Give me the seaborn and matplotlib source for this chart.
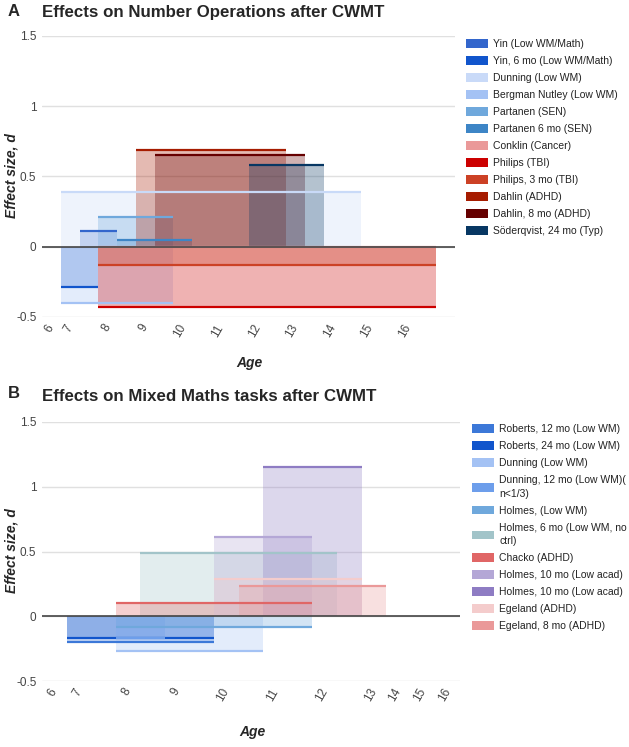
import numpy as np
import pandas as pd
import matplotlib
matplotlib.use("Agg")
import matplotlib.pyplot as plt
import seaborn as sns
from matplotlib.patches import Patch

# ---- data -------------------------------------------------------------
# age steps on the x axis (one step = one slot of the stepped chart)
rows_a = [6, 7, 7.5, 8, 8.5, 9, 9.5, 10, 10.5, 11, 11.5, 12, 12.5, 13,
          13.5, 14, 14.5, 15, 15.5, 16, 16.5, 17]
rows_b = [6, 7, 7.5, 8, 8.5, 9, 9.5, 10, 10.5, 11, 11.5, 12, 12.5, 13,
          14, 15, 16]
age_ticks = [6, 7, 8, 9, 10, 11, 12, 13, 14, 15, 16]

# panel A: number operations
names_a = ["Yin (Low WM/Math)", "Yin, 6 mo (Low WM/Math)", "Dunning (Low WM)",
           "Bergman Nutley (Low WM)", "Partanen (SEN)", "Partanen 6 mo (SEN)",
           "Conklin (Cancer)", "Philips (TBI)", "Philips, 3 mo (TBI)",
           "Dahlin (ADHD)", "Dahlin, 8 mo (ADHD)", "Söderqvist, 24 mo (Typ)"]
start_a = [7.5, 7, 7, 7, 8, 8.5, 8, 8, 8, 9, 9.5, 12]
end_a = [8, 7.5, 14.5, 9.5, 9.5, 10, 16.5, 16.5, 16.5, 12.5, 13, 13.5]
d_a = [0.11, -0.29, 0.39, -0.40, 0.21, 0.05, 0.0, -0.43, -0.13, 0.69, 0.65, 0.58]
colors_a = ["#3366cc", "#1155cc", "#c9daf8", "#a4c2f4", "#6fa8dc", "#3d85c6",
            "#ea9999", "#cc0000", "#cc4125", "#a61c00", "#660000", "#073763"]

# panel B: mixed maths tasks
names_b = ["Roberts, 12 mo (Low WM)", "Roberts, 24 mo (Low WM)", "Dunning (Low WM)",
           "Dunning, 12 mo (Low WM)(\nn<1/3)", "Holmes, (Low WM)",
           "Holmes, 6 mo (Low WM, no\nctrl)", "Chacko (ADHD)",
           "Holmes, 10 mo (Low acad)", "Holmes, 10 mo (Low acad)",
           "Egeland (ADHD)", "Egeland, 8 mo (ADHD)"]
start_b = [7, 7, 8, 8, 8, 8.5, 8, 10, 11, 10, 10.5]
end_b = [9.5, 9.5, 10.5, 8.5, 11.5, 12, 11.5, 11.5, 12.5, 12.5, 13]
d_b = [-0.20, -0.17, -0.27, -0.17, -0.08, 0.49, 0.10, 0.61, 1.15, 0.29, 0.23]
colors_b = ["#3c78d8", "#1155cc", "#a4c2f4", "#6d9eeb", "#6fa8dc", "#a2c4c9",
            "#e06666", "#b4a7d6", "#8e7cc3", "#f4cccc", "#ea9999"]

sns.set_theme(style="white")
plt.rcParams["font.family"] = ["Liberation Sans", "DejaVu Sans"]

W, H = 629, 747
fig = plt.figure(figsize=(W / 100, H / 100), dpi=100)


def px(l, t, r, b):
    return [l / W, 1 - b / H, (r - l) / W, (b - t) / H]


def panel(ax, rows, names, start, end, d, colors):
    order = [f"{r:g}" for r in rows]
    recs = []
    for i in range(len(names)):
        for r in rows:
            if start[i] <= r <= end[i]:
                recs.append({"row": f"{r:g}", "d": d[i], "key": str(i)})
    df = pd.DataFrame(recs)
    keys = [str(i) for i in range(len(names))]

    ax.set_ylim(-0.5, 1.5)
    ax.set_yticks([-0.5, 0, 0.5, 1, 1.5])
    ax.yaxis.grid(True, color="#e0e0e0", lw=1)
    ax.set_axisbelow(True)

    sns.barplot(data=df, x="row", y="d", hue="key", order=order, hue_order=keys,
                palette=colors, dodge=False, width=1, alpha=0.3, saturation=1,
                linewidth=0, errorbar=None, legend=False, ax=ax)

    # top edge line of each step area, taken from the bars seaborn drew
    for cont, col in zip(ax.containers, colors):
        xs0, xs1, ys = [], [], []
        for p in cont:
            p.set_antialiased(False)
            if np.isnan(p.get_height()):
                continue
            xs0.append(p.get_x())
            xs1.append(p.get_x() + p.get_width())
            ys.append(p.get_height())
        if ys:
            ax.hlines(ys[0], min(xs0), max(xs1), color=col, lw=1.6, zorder=3)

    ax.axhline(0, color="#444444", lw=1.2, zorder=4)
    ax.set_xlim(-0.5, len(rows) - 0.5)
    ax.set_xticks(range(len(rows)))
    ax.set_xticklabels([f"{r:g}" if r in age_ticks else "" for r in rows],
                       rotation=60, ha="right", va="center",
                       rotation_mode="anchor", fontsize=8.5, color="#444444")
    ax.tick_params(axis="x", length=0, pad=6)
    ax.tick_params(axis="y", length=0, pad=4, labelsize=8.5, labelcolor="#444444")
    ax.set_yticklabels(["-0.5", "0", "0.5", "1", "1.5"])
    ax.set_xlabel("")
    ax.set_ylabel("")
    sns.despine(ax=ax, left=True, bottom=True)

    handles = [Patch(facecolor=c, edgecolor="none", label=n)
               for n, c in zip(names, colors)]
    return handles


leg_kw = dict(loc="upper left", bbox_transform=fig.transFigure, frameon=False,
              fontsize=7.5, handlelength=2.1, handleheight=0.9,
              handletextpad=0.5, labelspacing=0.67, borderaxespad=0,
              labelcolor="#222222")

ax_a = fig.add_axes(px(42, 36, 455, 317))
h_a = panel(ax_a, rows_a, names_a, start_a, end_a, d_a, colors_a)
ax_a.legend(handles=h_a, bbox_to_anchor=(462 / W, 1 - 35 / H), **leg_kw)

ax_b = fig.add_axes(px(42, 422, 460, 681))
h_b = panel(ax_b, rows_b, names_b, start_b, end_b, d_b, colors_b)
leg_b = ax_b.legend(handles=h_b, bbox_to_anchor=(468 / W, 1 - 420 / H), **leg_kw)
for t in leg_b.get_texts():
    t.set_linespacing(1.45)

# titles and axis labels
fig.text(8 / W, 1 - 12 / H, "A", fontsize=12, fontweight="bold", va="center")
fig.text(42 / W, 1 - 12 / H, "Effects on Number Operations after CWMT",
         fontsize=12.2, fontweight="bold", va="center")
fig.text(8 / W, 1 - 394 / H, "B", fontsize=12, fontweight="bold", va="center")
fig.text(42 / W, 1 - 396 / H, "Effects on Mixed Maths tasks after CWMT",
         fontsize=12.2, fontweight="bold", va="center")

for yc in (176, 551):
    fig.text(12 / W, 1 - yc / H, "Effect size, d", rotation=90, fontsize=10,
             fontweight="bold", fontstyle="italic", ha="center", va="center")
fig.text(249 / W, 1 - 363 / H, "Age", fontsize=10, fontweight="bold",
         fontstyle="italic", ha="center", va="center")
fig.text(252 / W, 1 - 732 / H, "Age", fontsize=10, fontweight="bold",
         fontstyle="italic", ha="center", va="center")

fig.savefig("out.png", dpi=100)
